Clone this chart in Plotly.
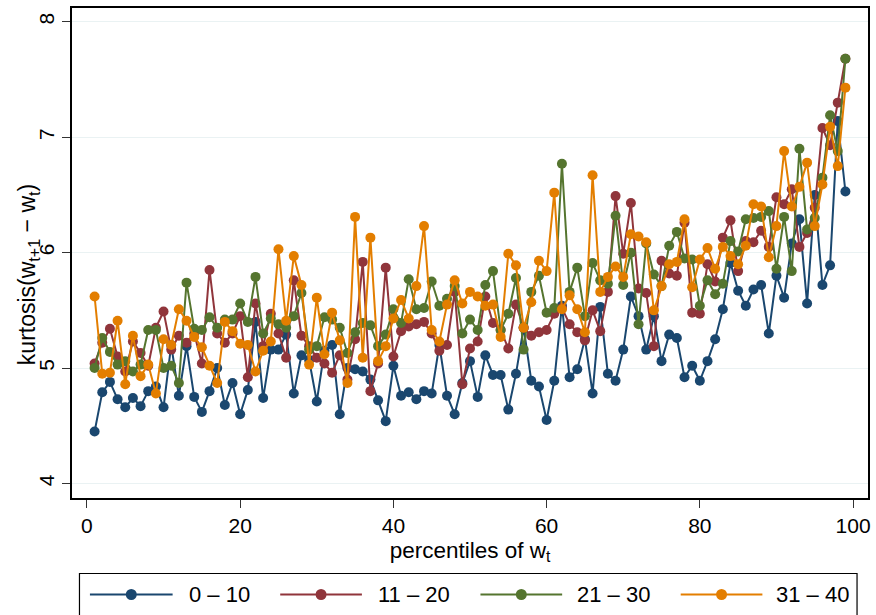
import plotly.graph_objects as go

percentiles = list(range(1, 100))

series_names = ["0 – 10", "11 – 20", "21 – 30", "31 – 40"]
series_colors = ["#1A476F", "#90353B", "#55752F", "#E37E00"]

kurt_0_10 = [4.45, 4.79, 4.88, 4.73, 4.66, 4.74, 4.67, 4.80, 4.84, 4.66,
             5.20, 4.76, 5.19, 4.75, 4.62, 4.80, 5.00, 4.68, 4.87, 4.60,
             4.81, 5.40, 4.74, 5.16, 5.16, 5.29, 4.78, 5.11, 5.07, 4.71,
             5.15, 5.20, 4.60, 5.00, 4.99, 4.97, 4.90, 4.72, 4.54, 5.02,
             4.76, 4.79, 4.73, 4.80, 4.78, 5.20, 4.76, 4.60, 4.87, 5.06,
             4.75, 5.11, 4.94, 4.94, 4.64, 4.95, 5.35, 4.89, 4.84, 4.55,
             4.89, 5.54, 4.92, 4.99, 5.25, 4.78, 5.53, 4.95, 4.89, 5.16,
             5.62, 5.45, 5.16, 5.45, 5.06, 5.29, 5.26, 4.92, 5.02, 4.89,
             5.06, 5.25, 5.51, 5.91, 5.67, 5.54, 5.68, 5.72, 5.30, 5.80,
             5.61, 6.08, 6.29, 5.56, 6.50, 5.72, 5.89, 7.14, 6.53]

kurt_11_20 = [5.04, 5.22, 5.34, 5.10, 4.97, 5.23, 5.13, 5.02, 5.35, 5.49,
              5.16, 5.28, 5.22, 5.30, 5.04, 5.85, 5.30, 5.22, 5.30, 5.45,
              4.92, 5.56, 5.19, 5.47, 5.30, 5.09, 5.76, 5.28, 5.19, 5.09,
              5.04, 4.96, 5.11, 4.90, 5.25, 5.92, 4.80, 5.04, 5.87, 5.10,
              5.32, 5.36, 5.38, 5.40, 5.30, 5.15, 5.20, 5.66, 4.86, 5.17,
              5.23, 5.62, 5.39, 5.33, 5.17, 5.55, 5.35, 5.28, 5.31, 5.33,
              5.47, 5.52, 5.38, 5.31, 5.24, 5.50, 5.32, 5.66, 6.49, 5.99,
              6.43, 5.69, 5.65, 5.19, 5.93, 5.82, 5.80, 6.26, 5.48, 5.47,
              5.90, 5.75, 6.13, 6.28, 5.84, 6.10, 6.09, 6.19, 6.05, 6.48,
              6.42, 6.55, 6.05, 6.17, 6.39, 7.08, 6.93, 7.30, 7.68]

kurt_21_30 = [5.00, 5.26, 5.14, 5.03, 5.06, 4.97, 5.03, 5.33, 5.33, 5.00,
              5.02, 4.87, 5.74, 5.34, 5.33, 5.44, 5.35, 5.42, 5.42, 5.56,
              5.40, 5.79, 5.30, 5.43, 5.38, 5.35, 5.45, 5.65, 5.16, 5.19,
              5.44, 5.42, 5.35, 5.13, 5.31, 5.39, 5.37, 5.19, 5.29, 5.51,
              5.39, 5.77, 5.51, 5.52, 5.75, 5.54, 5.60, 5.71, 5.30, 5.42,
              5.33, 5.72, 5.84, 5.33, 5.47, 5.78, 5.16, 5.66, 5.80, 5.48,
              5.52, 6.77, 5.66, 5.87, 5.45, 5.91, 5.76, 5.73, 6.32, 5.72,
              6.00, 5.38, 6.08, 5.81, 5.71, 6.06, 6.18, 5.95, 5.94, 5.54,
              5.76, 5.64, 5.73, 6.10, 6.01, 6.29, 6.30, 6.31, 6.36, 5.86,
              6.31, 5.84, 6.90, 6.20, 6.30, 6.65, 7.19, 6.88, 7.68]

kurt_31_40 = [5.62, 4.95, 4.96, 5.41, 4.86, 5.28, 4.93, 5.03, 4.78, 5.25,
              5.20, 5.51, 5.41, 5.27, 5.18, 5.02, 4.87, 5.40, 5.32, 5.21,
              5.20, 4.97, 5.15, 5.23, 6.03, 5.41, 5.97, 5.72, 5.03, 5.61,
              5.12, 5.48, 5.24, 4.87, 6.31, 5.09, 6.13, 5.06, 5.19, 5.43,
              5.59, 5.43, 5.71, 6.23, 5.33, 5.23, 5.55, 5.76, 5.56, 5.66,
              5.62, 5.54, 5.55, 5.27, 5.99, 5.89, 5.35, 5.57, 5.93, 5.84,
              6.52, 5.51, 5.63, 5.51, 5.31, 6.67, 5.66, 5.79, 5.88, 5.79,
              6.16, 6.14, 6.09, 5.50, 5.71, 5.90, 5.92, 6.29, 5.70, 5.94,
              6.04, 5.86, 6.05, 5.97, 5.90, 6.06, 6.42, 6.40, 5.96, 6.23,
              6.88, 6.40, 6.57, 6.78, 6.23, 6.59, 7.09, 6.75, 7.43]

x_ticks = [0, 20, 40, 60, 80, 100]
y_ticks = [4, 5, 6, 7, 8]

W, H = 876, 615
ML, MR, MT, MB = 72, 5, 8, 117
PW, PH = W - ML - MR, H - MT - MB


def px_x(px):
    return (px - ML) / PW


def px_y(py):
    return (H - MB - py) / PH


FONT = "Liberation Sans, Arial, sans-serif"

fig = go.Figure()
all_series = [kurt_0_10, kurt_11_20, kurt_21_30, kurt_31_40]
for name, color, vals in zip(series_names, series_colors, all_series):
    fig.add_trace(go.Scatter(
        x=percentiles, y=vals, name=name, mode="lines+markers",
        line=dict(color=color, width=2),
        marker=dict(color=color, size=10),
        showlegend=False,
    ))

fig.update_layout(
    width=W, height=H,
    margin=dict(l=ML, r=MR, t=MT, b=MB),
    paper_bgcolor="white", plot_bgcolor="white",
    font=dict(family=FONT, color="black", size=20),
)
fig.update_xaxes(
    range=[-1.95, 101.95], tickvals=x_ticks, ticks="outside", ticklen=8,
    tickcolor="#333", tickwidth=1, showgrid=False, zeroline=False,
    showline=True, linecolor="black", linewidth=1.5, mirror=True,
    tickfont=dict(size=21),
    title=dict(text="percentiles of w<sub>t</sub>", font=dict(size=22.5), standoff=6),
)
fig.update_yaxes(
    range=[3.874, 8.12], tickvals=y_ticks, ticks="outside", ticklen=8,
    tickcolor="#333", tickwidth=1, tickangle=-90,
    showgrid=True, gridcolor="#EAF2F3", gridwidth=1.2, zeroline=False,
    showline=True, linecolor="black", linewidth=1.5, mirror=True,
    tickfont=dict(size=21),
)

annotations = [dict(
    text="kurtosis(w<sub>t+1</sub> − w<sub>t</sub>)", textangle=-90,
    xref="paper", yref="paper", x=px_x(28), y=px_y(275),
    showarrow=False, font=dict(size=23), xanchor="center", yanchor="middle",
)]

shapes = [dict(type="rect", xref="paper", yref="paper",
               x0=px_x(79.5), x1=px_x(860), y0=px_y(573.5), y1=px_y(650),
               line=dict(color="black", width=1.2), fillcolor="rgba(0,0,0,0)")]

leg_line_x = [(90, 173), (281, 363), (482, 564), (683, 765)]
leg_text_x = [187, 377, 577, 777]
leg_y = 594.5
for (x0, x1), tx, name, color in zip(leg_line_x, leg_text_x, series_names, series_colors):
    shapes.append(dict(type="line", xref="paper", yref="paper",
                       x0=px_x(x0), x1=px_x(x1), y0=px_y(leg_y), y1=px_y(leg_y),
                       line=dict(color=color, width=2)))
    cx = (x0 + x1) / 2
    shapes.append(dict(type="circle", xref="paper", yref="paper",
                       x0=px_x(cx - 5.5), x1=px_x(cx + 5.5),
                       y0=px_y(leg_y + 5.5), y1=px_y(leg_y - 5.5),
                       fillcolor=color, line=dict(color=color, width=0)))
    annotations.append(dict(text=name, xref="paper", yref="paper",
                            x=px_x(tx), y=px_y(leg_y), xanchor="left", yanchor="middle",
                            showarrow=False, font=dict(size=22)))

fig.update_layout(shapes=shapes, annotations=annotations)
fig.write_html("out.html")
